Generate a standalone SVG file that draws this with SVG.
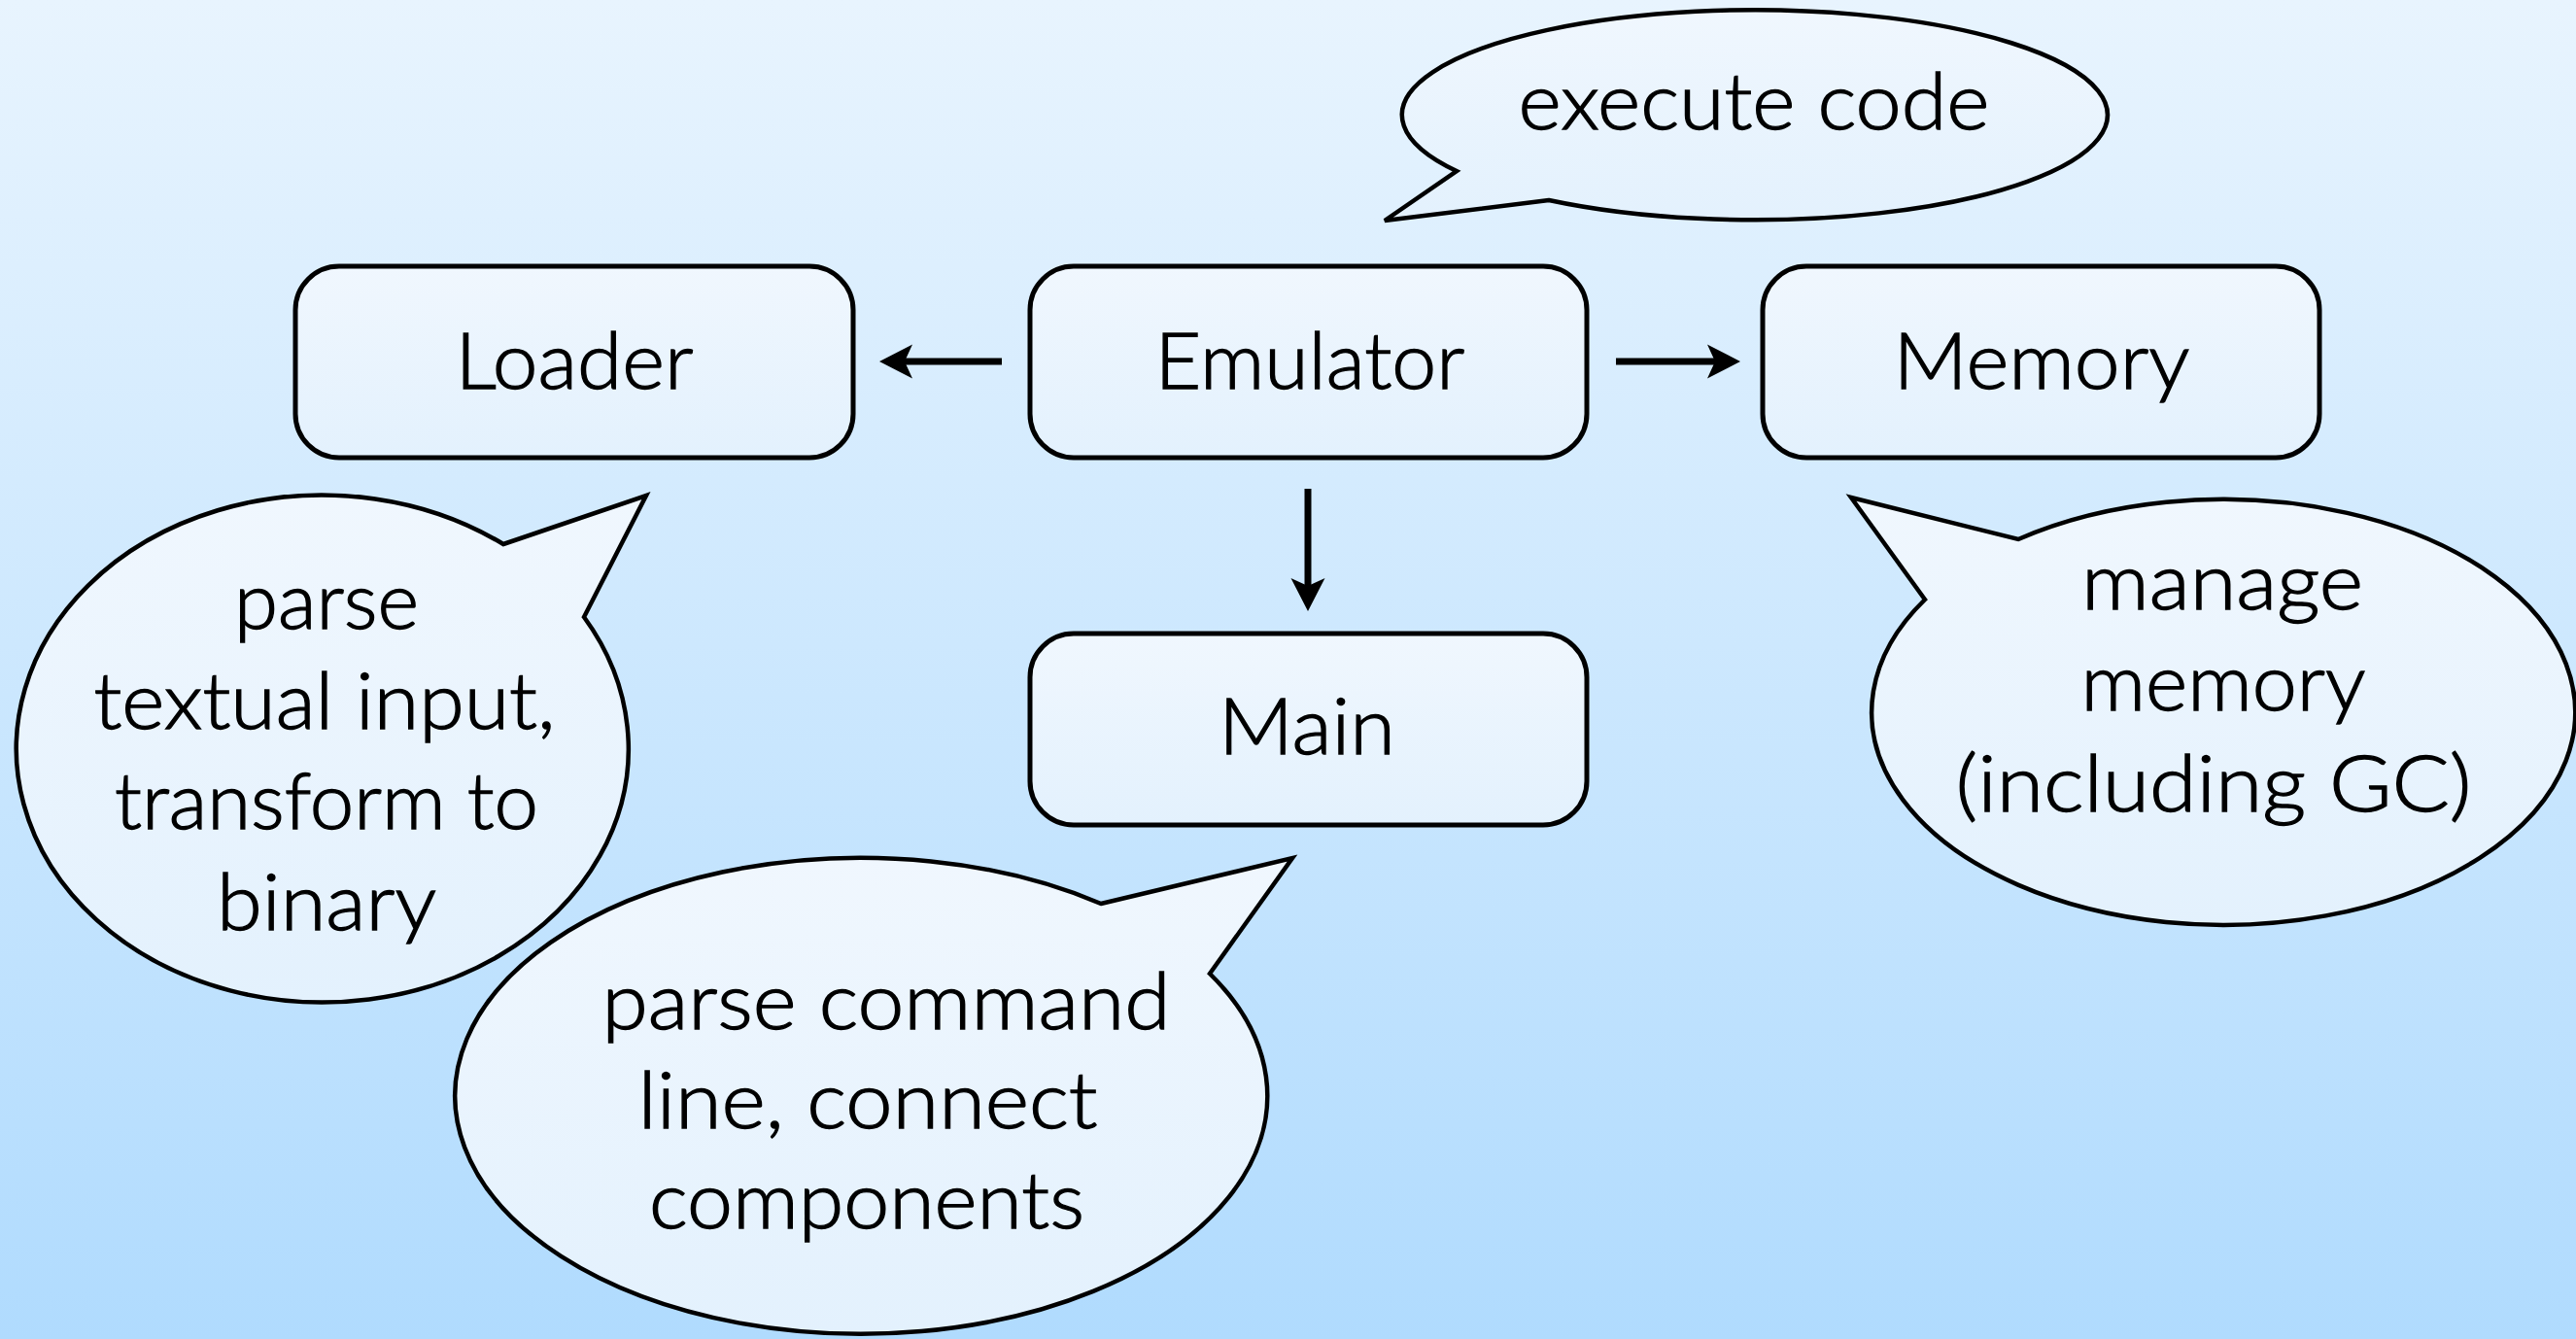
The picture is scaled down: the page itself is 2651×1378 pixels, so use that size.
<svg xmlns="http://www.w3.org/2000/svg" width="2651" height="1378" viewBox="0 0 2651 1378">
<defs>
<linearGradient id="bg" x1="0" y1="0" x2="0" y2="1">
<stop offset="0" stop-color="#e8f4fe"/>
<stop offset="1" stop-color="#b0dbfe"/>
</linearGradient>
<linearGradient id="nodefill" x1="0" y1="0" x2="0" y2="1">
<stop offset="0" stop-color="#f0f7fe"/>
<stop offset="1" stop-color="#e3f1fd"/>
</linearGradient>
<marker id="ah" viewBox="-36 -19 38 38" refX="-26" refY="0" markerWidth="38" markerHeight="38" markerUnits="userSpaceOnUse" orient="auto">
<path d="M0,0 L-34,-17.5 L-26,0 L-34,17.5 Z" fill="#000"/>
</marker>
</defs>
<style>
.box{fill:url(#nodefill);stroke:#000;stroke-width:5}
.bub{fill:url(#nodefill);stroke:#000;stroke-width:4.5;stroke-linejoin:miter}
.t{font-family:Lato,"Noto Sans","DejaVu Sans",sans-serif;font-weight:300;font-size:80px;fill:#000;stroke:#000;stroke-width:1.3;text-anchor:middle}
.conn{stroke:#000;stroke-width:7;fill:none;marker-end:url(#ah)}
</style>
<rect x="0" y="0" width="2651" height="1378" fill="url(#bg)"/>

<g id="connectors">
<path class="conn" d="M1031,372 L931,372"/>
<path class="conn" d="M1663,372 L1765,372"/>
<path class="conn" d="M1346,503 L1346,603"/>
</g>

<g id="loader">
<rect class="box" x="304" y="274" width="574" height="197" rx="45"/>
<text class="t" x="591" y="400" textLength="245" lengthAdjust="spacingAndGlyphs">Loader</text>
</g>
<g id="emulator">
<rect class="box" x="1060" y="274" width="573" height="197" rx="45"/>
<text class="t" x="1348" y="400" textLength="319" lengthAdjust="spacingAndGlyphs">Emulator</text>
</g>
<g id="memory">
<rect class="box" x="1814" y="274" width="573" height="197" rx="45"/>
<text class="t" x="2101" y="400" textLength="305" lengthAdjust="spacingAndGlyphs">Memory</text>
</g>
<g id="main">
<rect class="box" x="1060" y="652" width="573" height="197" rx="45"/>
<text class="t" x="1345" y="776" textLength="182" lengthAdjust="spacingAndGlyphs">Main</text>
</g>

<g id="callout-execute">
<path class="bub" d="M1594,206 L1425,227 L1499,176 A363,108 0 1 1 1594,206 Z"/>
<text class="t" x="1805" y="133" textLength="485" lengthAdjust="spacingAndGlyphs">execute code</text>
</g>
<g id="callout-loader">
<path class="bub" d="M518,560 L665,510 L601,635 A315,261 0 1 1 518,560 Z"/>
<text class="t" x="336" y="647" textLength="190" lengthAdjust="spacingAndGlyphs">parse</text>
<text class="t" x="334" y="750" textLength="475" lengthAdjust="spacingAndGlyphs">textual input,</text>
<text class="t" x="336" y="853" textLength="436" lengthAdjust="spacingAndGlyphs">transform to</text>
<text class="t" x="336" y="957" textLength="226" lengthAdjust="spacingAndGlyphs">binary</text>
</g>
<g id="callout-memory">
<path class="bub" d="M1981,617 L1905,512 L2077,555 A362,219 0 1 1 1981,617 Z"/>
<text class="t" x="2287" y="627" textLength="290" lengthAdjust="spacingAndGlyphs">manage</text>
<text class="t" x="2288" y="731" textLength="293" lengthAdjust="spacingAndGlyphs">memory</text>
<text class="t" x="2278" y="835" textLength="531" lengthAdjust="spacingAndGlyphs">(including GC)</text>
</g>
<g id="callout-main">
<path class="bub" d="M1133,930 L1330,883 L1245,1002 A418,245 0 1 1 1133,930 Z"/>
<text class="t" x="912" y="1059" textLength="585" lengthAdjust="spacingAndGlyphs">parse command</text>
<text class="t" x="893" y="1161" textLength="473" lengthAdjust="spacingAndGlyphs">line, connect</text>
<text class="t" x="892" y="1264" textLength="448" lengthAdjust="spacingAndGlyphs">components</text>
</g>
</svg>
